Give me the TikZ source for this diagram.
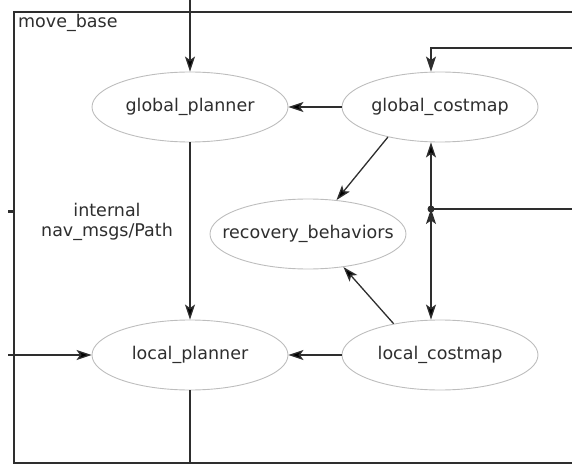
\documentclass[tikz,border=0pt]{standalone}
\usepackage{fontspec}
\setmainfont{DejaVu Sans}
\usepackage{tikz}
\usetikzlibrary{shapes.geometric, positioning, arrows.meta}
\definecolor{linegray}{HTML}{2E2E2E}
\definecolor{ovalgray}{HTML}{BDBDBD}
\definecolor{textgray}{HTML}{2E2E2E}
\tikzset{
	>={Stealth[length=15pt,width=10pt,inset=3.5pt]}, % sharp filled heads
	every node/.style={text=textgray, font=\fontsize{17.5}{20}\selectfont},
	module/.style={ellipse, draw=ovalgray, line width=0.9pt, minimum width=196pt, minimum height=70pt, inner xsep=-22pt, inner ysep=0pt}, % ellipse of each part
	link/.style={draw=linegray, line width=1.3pt},
	frame/.style={draw=linegray, line width=2pt},
}
\begin{document}
\begin{tikzpicture}[x=1pt, y=1pt, node distance=250pt, on grid]
		\useasboundingbox (0,0) rectangle (572,464);
		% Frame of move_base
		\draw[frame] (572,452) -- (14,452) -- (14,1) -- (572,1);
		\node[anchor=west, inner sep=1pt] (mb) at (17,441) {move\_base};
		
		% Define parts
		\node[module] (gp) at (190,357) {global\_planner};
		\node[module, right=of gp] (gc) {global\_costmap};
		\node[module, below=248pt of gp] (lp) {local\_planner};
		\node[module, right=of lp] (lc) {local\_costmap};
		\node[module, below right=127pt and 118pt of gp] (rb) {recovery\_behaviors};
		\node[align=center, inner sep=0pt] (path) at (107,242) {internal\\nav\_msgs/Path};
		
		% Free ends
		\coordinate (goal) at (190,464);
		\coordinate (odom) at (8,109);
		\coordinate (cmd) at (190,0);
		\coordinate (map) at (572,416);
		\coordinate (sensor) at (572,255);
		\coordinate (junc) at (431,255);
		\coordinate (tick) at (8,253);
		
		% Connections
		\path[link, ->]
		(goal) edge (gp)
		(gc) edge (gp)
		(gp) edge (lp)
		(lc) edge (lp)
		(odom) edge (lp)
		(gc.210) edge (rb.50)
		(lc.146) edge (rb.317)
		(junc) edge (junc |- gc.south)
		(junc) edge (junc |- lc.north);
		\draw[link, ->] (map) -| (junc |- gc.north);
		\draw[link] (sensor) -- (junc);
		\draw[link] (lp) -- (cmd);
		\draw[linegray, line width=3pt] (tick) -- (14,253);
		\fill[linegray] (junc) circle (3.5pt);
		
	\end{tikzpicture}
\end{document}
